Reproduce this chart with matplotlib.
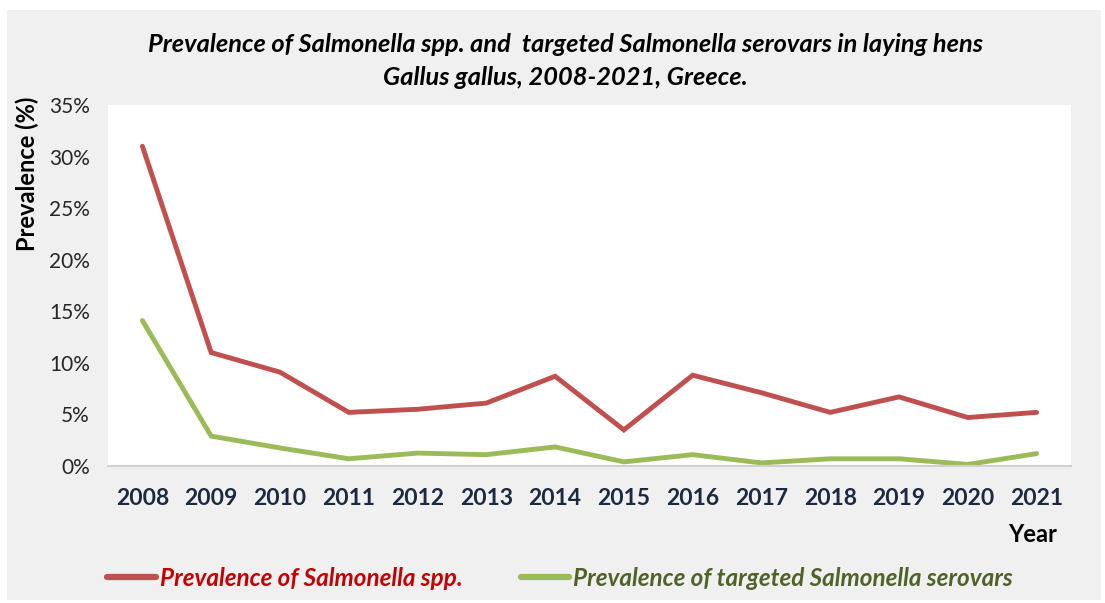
import matplotlib
matplotlib.use("Agg")
import matplotlib.pyplot as plt
from matplotlib.patches import Rectangle
from matplotlib.ticker import FuncFormatter

years = ["2008", "2009", "2010", "2011", "2012", "2013", "2014",
         "2015", "2016", "2017", "2018", "2019", "2020", "2021"]
salmonella_spp = [31.0, 11.0, 9.1, 5.2, 5.5, 6.1, 8.7, 3.5, 8.8, 7.1, 5.2, 6.7, 4.7, 5.2]
targeted_serovars = [14.1, 2.9, 1.75, 0.7, 1.25, 1.1, 1.85, 0.4, 1.1, 0.3, 0.7, 0.7, 0.15, 1.2]
yticks = [0, 5, 10, 15, 20, 25, 30, 35]

FONT = ["Lato", "DejaVu Sans"]
plt.rcParams["font.family"] = FONT

W, H = 1105, 603
fig = plt.figure(figsize=(W / 100, H / 100), dpi=100, facecolor="white")
bg = Rectangle((7 / W, 3 / H), (1101 - 7) / W, (593 - 3) / H,
               transform=fig.transFigure, facecolor="#f0f0f0", edgecolor="none", zorder=-10)
fig.patches.append(bg)

ax = fig.add_axes([108 / W, (H - 466) / H, (1071 - 108) / W, (466 - 105) / H])
ax.set_zorder(2)
ax.set_facecolor("white")
x = list(range(len(years)))
l1, = ax.plot(x, salmonella_spp, color="#c0504d", lw=3.5, solid_capstyle="round",
              solid_joinstyle="miter", label="Prevalence of Salmonella spp.")
l2, = ax.plot(x, targeted_serovars, color="#9bbb59", lw=3.5, solid_capstyle="round",
              solid_joinstyle="miter", label="Prevalence of targeted Salmonella serovars")
ax.set_xlim(-0.5, len(years) - 0.5)
ax.set_ylim(0, 35)
ax.set_yticks(yticks)
ax.yaxis.set_major_formatter(FuncFormatter(lambda v, p: f"{v:.0f}%"))
ax.set_xticks(x)
ax.set_xticklabels(years)
for s in ["top", "right", "left"]:
    ax.spines[s].set_visible(False)
ax.spines["bottom"].set_color("#d0d0d0")
ax.spines["bottom"].set_linewidth(1.5)
ax.tick_params(axis="both", length=0)
ax.tick_params(axis="x", pad=16, labelsize=16.5, labelcolor="#1c2a40")
ax.tick_params(axis="y", pad=13, labelsize=15, labelcolor="#262626")
for t in ax.get_xticklabels():
    t.set_fontweight("bold")

fig.text(565 / W, 1 - 61 / H,
         "Prevalence of Salmonella spp. and  targeted Salmonella serovars in laying hens\n"
         "Gallus gallus, 2008-2021, Greece.",
         ha="center", va="center", fontsize=18.3, fontweight="bold", style="italic",
         linespacing=1.5, color="black")
fig.text(27 / W, 1 - 174 / H, "Prevalence (%)", rotation=90, ha="center", va="center",
         fontsize=17, fontweight="bold", color="black")
fig.text(1033 / W, 1 - 535 / H, "Year", ha="center", va="center",
         fontsize=17, fontweight="bold", color="black")

leg = fig.legend(handles=[l1, l2], loc="center", bbox_to_anchor=(560 / W, 1 - 578 / H),
                 ncol=2, frameon=False, handlelength=2.0, handletextpad=0.15,
                 columnspacing=2.4, prop={"size": 17.5, "weight": "bold", "style": "italic"})
for t, c in zip(leg.get_texts(), ["#c00000", "#4f6228"]):
    t.set_color(c)
for h in leg.legend_handles:
    h.set_linewidth(4.5)

fig.savefig("out.png", dpi=100, facecolor=fig.get_facecolor())
